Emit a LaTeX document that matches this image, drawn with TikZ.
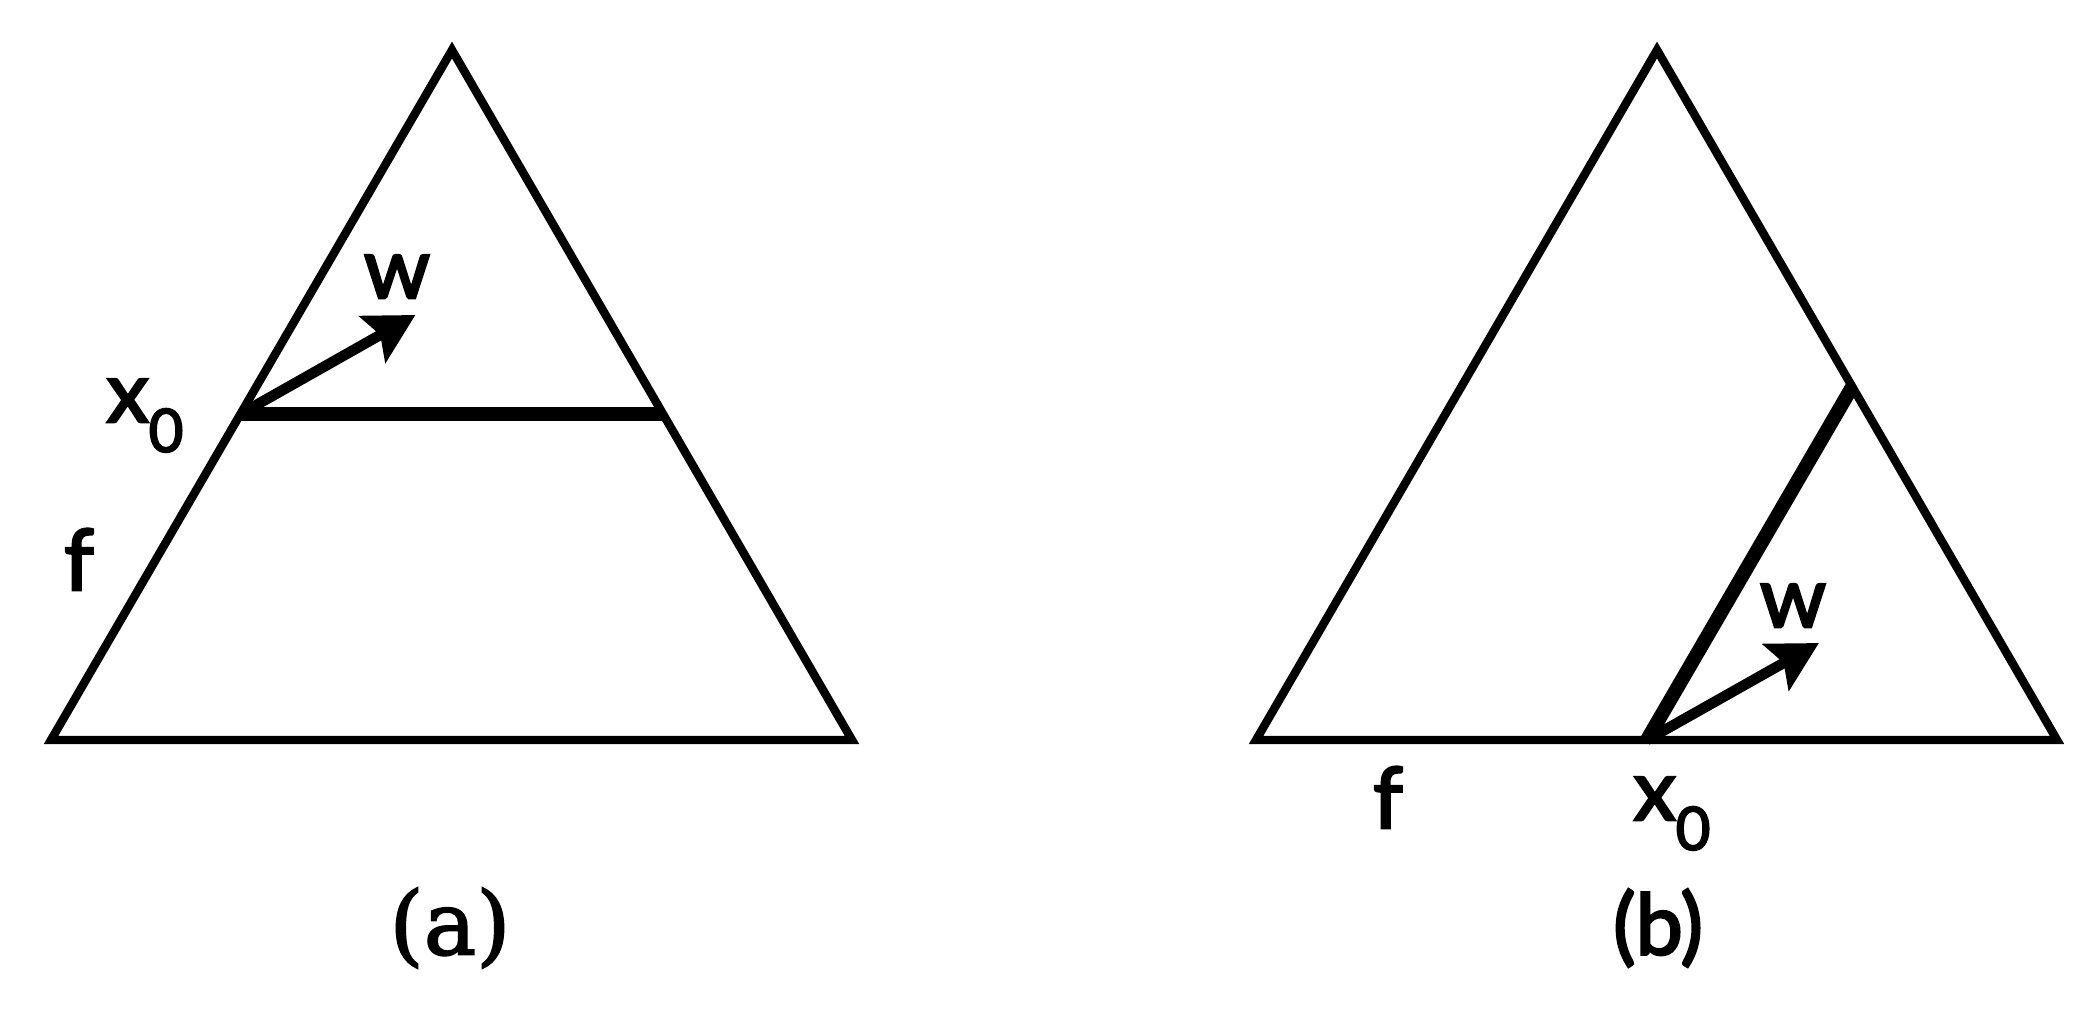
\documentclass[tikz,border=0pt]{standalone}
\usepackage{fontspec}
\setmainfont{Lato}[UprightFeatures={FakeBold=3}]
\newfontfamily\serifcap{DejaVu Serif}[UprightFeatures={FakeBold=2}]
\usetikzlibrary{calc,arrows.meta}
\newcommand{\xzero}{x\raisebox{-8.5pt}{\fontsize{17}{17}\selectfont 0}}

\begin{document}
\begin{tikzpicture}[x=0.01cm,y=-0.01cm,
        tri/.style={line width=2.4pt},
        bar/.style={line width=4pt},
        vec/.style={line width=3pt,-{Stealth[length=14pt,width=15pt,inset=2.5pt]}},
        lab/.style={inner sep=0pt,font=\fontsize{24}{28}\selectfont}]
        \useasboundingbox (0,0) rectangle (2095,1015);
        % (a)
        \coordinate (topA) at (452,50);
        \coordinate (leftA) at (51,740);
        \coordinate (rightA) at (852,740);
        \coordinate (x0A) at ($(leftA)!0.4725!(topA)$);
        \coordinate (endA) at ($(rightA)!0.4725!(topA)$);
        \coordinate (wA) at ($(x0A)+(175,-99)$);
        \draw[tri] (leftA) -- (topA) -- (rightA) -- cycle;
        \draw[bar] (x0A) -- (endA);
        \draw[vec] (x0A) -- (wA);
        \node[lab,anchor=base west] (xA) at (106,422) {\xzero};
        \node[lab,anchor=base] (wlA) at (397,298) {w};
        \node[lab,anchor=base] (fA) at (79,590) {f};
        \node[lab,font=\serifcap\fontsize{25}{28}\selectfont] (capA) at (450,928) {(a)};
        % (b)
        \coordinate (topB) at (1657,50);
        \coordinate (leftB) at (1256,740);
        \coordinate (rightB) at (2057,740);
        \coordinate (x0B) at ($(leftB)!0.488!(rightB)$);
        \coordinate (endB) at ($(rightB)!0.512!(topB)$);
        \coordinate (wB) at ($(x0B)+(172,-97)$);
        \draw[tri] (leftB) -- (topB) -- (rightB) -- cycle;
        \draw[bar] (x0B) -- (endB);
        \draw[vec] (x0B) -- (wB);
        \node[lab,anchor=base west] (xB) at (1633,820) {\xzero};
        \node[lab,anchor=base] (wlB) at (1793,627) {w};
        \node[lab,anchor=base] (fB) at (1388,828) {f};
        \node[lab] (capB) at (1658,928) {(b)};
\end{tikzpicture}
\end{document}
